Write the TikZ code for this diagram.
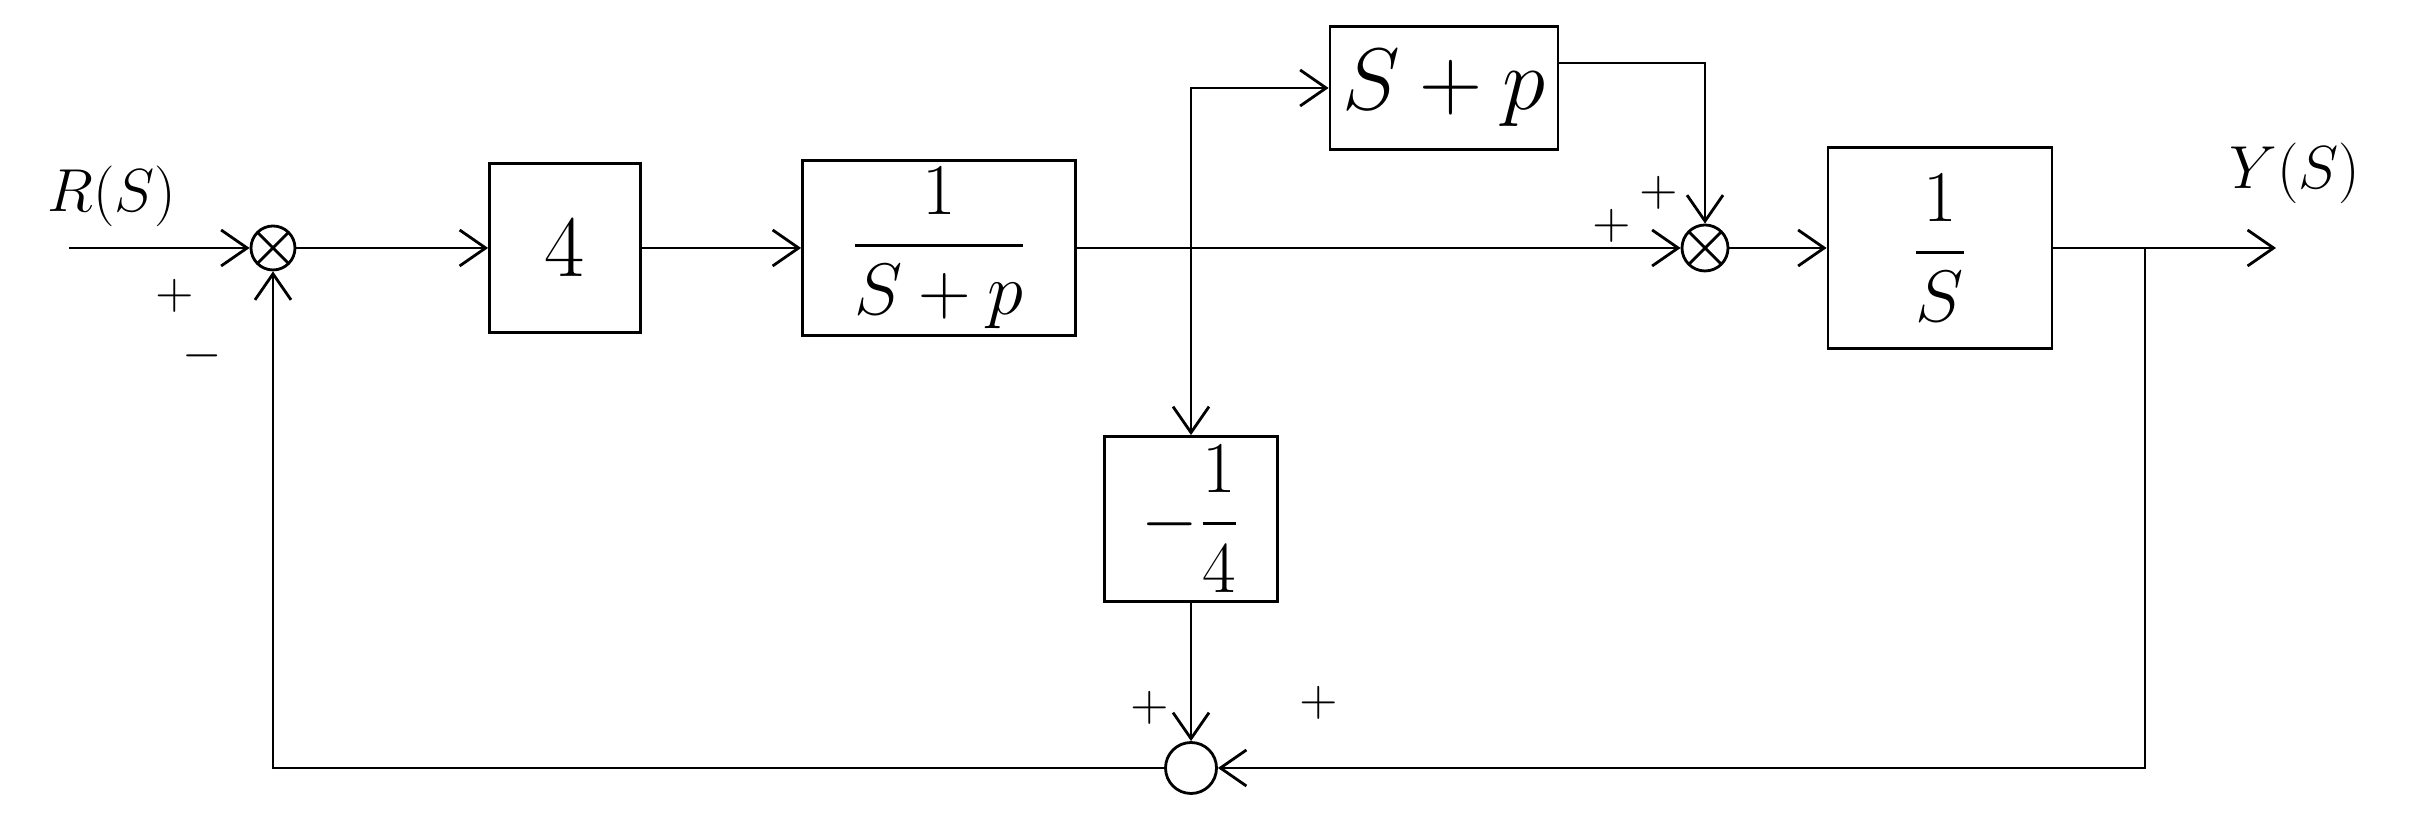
\documentclass[tikz,border=0pt]{standalone}
\usepackage{amsmath}
\usetikzlibrary{arrows.meta}

\tikzset{
  blk/.style={draw, thick, rectangle, inner sep=2pt, font=\fontsize{28}{32}\selectfont},
  blkf/.style={blk, font=\fontsize{22}{26}\selectfont},
  sumc/.style={draw, thick, circle, inner sep=0pt, minimum size=0.44cm},
  sumx/.style={sumc, path picture={
      \draw[thick] (path picture bounding box.north west) -- (path picture bounding box.south east)
                   (path picture bounding box.south west) -- (path picture bounding box.north east);}},
  sgn/.style={inner sep=1pt, font=\fontsize{14}{16}\selectfont},
  lbl/.style={font=\fontsize{19}{22}\selectfont},
}

\begin{document}
\begin{tikzpicture}[>={Straight Barb[length=2.6mm,width=3.6mm]}, thick]
    \useasboundingbox (0,0) rectangle (24.2,8.18);

    % Forward path
    \coordinate (in) at (0.69,5.7);
    \node[lbl] (rlab) at (1.12,6.22) {$R(S)$};
    \node[sumx] (sa) at (2.73,5.7) {};
    \node[blk, minimum width=1.51cm, minimum height=1.69cm] (kb) at (5.65,5.7) {$4$};
    \node[blkf, minimum width=2.73cm, minimum height=1.70cm] (gp) at (9.39,5.7) {$\dfrac{1}{S+p}$};
    \coordinate (br) at (11.91,5.7);
    \node[sumx, minimum size=0.46cm] (sb) at (17.05,5.7) {};
    \node[blkf, minimum width=2.24cm, minimum height=2.01cm] (ig) at (19.40,5.7) {$\dfrac{1}{S}$};
    \coordinate (ob) at (21.45,5.7);
    \coordinate (out) at (22.76,5.7);
    \node[lbl] (ylab) at (22.95,6.45) {$Y(S)$};

    % Parallel branch
    \node[blk, minimum width=2.28cm, minimum height=1.23cm] (ff) at (14.44,7.3) {$S+p$};

    % Feedback path
    \node[blkf, minimum width=1.73cm, minimum height=1.65cm] (qb) at (11.91,2.99) {$-\dfrac{1}{4}$};
    \node[sumc, minimum size=0.51cm] (sc) at (11.91,0.5) {};

    % Signs
    \node[sgn] (s1p) at (1.75,5.22) {$+$};
    \node[sgn] (s1m) at (2.02,4.62) {$-$};
    \node[sgn] (s2a) at (16.59,6.25) {$+$};
    \node[sgn] (s2b) at (16.12,5.92) {$+$};
    \node[sgn] (s3a) at (11.50,1.10) {$+$};
    \node[sgn] (s3b) at (13.19,1.15) {$+$};

    % Connections
    \draw[->] (in) -- (sa);
    \draw[->] (sa) -- (kb);
    \draw[->] (kb) -- (gp);
    \draw (gp) -- (br);
    \draw[->] (br) -- (sb);
    \draw[->] (br) |- (ff);
    \draw[->] ([yshift=0.25cm]ff.east) -| (sb);
    \draw[->] (sb) -- (ig);
    \draw[->] (ig) -- (out);
    \draw[->] (br) -- (qb);
    \draw[->] (qb) -- (sc);
    \draw[->] (ob) |- (sc);
    \draw[->] (sc) -| (sa);
\end{tikzpicture}
\end{document}
